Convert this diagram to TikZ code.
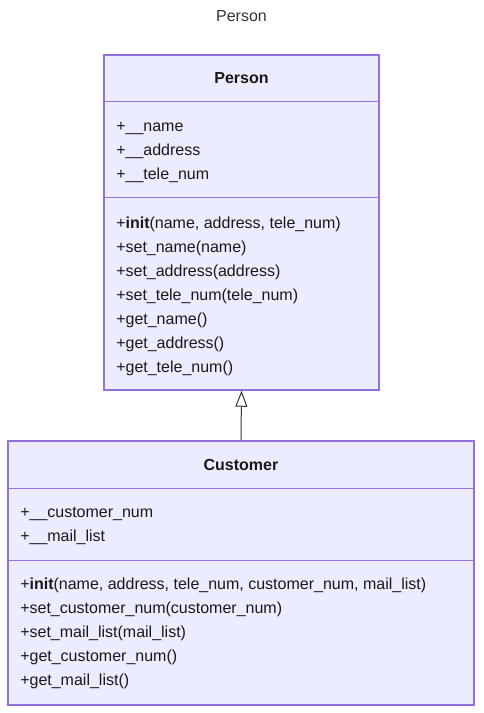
\documentclass[tikz,border=0pt]{standalone}
\usepackage{fontspec}
\setmainfont{Liberation Sans}
\usetikzlibrary{arrows.meta}
\definecolor{classfill}{HTML}{ECECFF}
\definecolor{classedge}{HTML}{9370DB}
\definecolor{textgray}{HTML}{333333}
\tikzset{
  classbox/.style={draw=classedge, fill=classfill, line width=1.1pt, inner sep=0pt},
  classline/.style={draw=classedge, line width=1.1pt},
  member/.style={anchor=base west, inner sep=0pt, font=\fontsize{12}{14}\selectfont, text=black!90},
  classname/.style={anchor=base, inner sep=0pt, font=\fontsize{12}{14}\selectfont\bfseries, text=black!90},
  inherit/.style={draw=textgray, line width=0.75pt, -{Triangle[open, width=9pt, length=12pt, fill=white]}}
}
\begin{document}
\begin{tikzpicture}[x=0.75pt, y=-0.75pt]
            \useasboundingbox (0,0) rectangle (483,713);
            % title
            \node[anchor=base, inner sep=0pt, font=\fontsize{12}{14}\selectfont, text=textgray] (title) at (241.5,22) {Person};

            % class Person
            \node[classbox, minimum width=206.25pt, minimum height=251.25pt] (person) at (241.5,222.5) {};
            \draw[classline] (person.north west) ++(0,47) -- ++(275,0);
            \draw[classline] (person.north west) ++(0,143) -- ++(275,0);
            \node[classname] (personname) at (241.5,84) {Person};
            \foreach \t [count=\i] in {+\_\_name, +\_\_address, +\_\_tele\_num}
                \node[member] (pa\i) at (116,{132+24*(\i-1)}) {\t};
            \foreach \t [count=\i] in {{+\textbf{init}(name, address, tele\_num)}, +set\_name(name), +set\_address(address),
                    +set\_tele\_num(tele\_num), +get\_name(), +get\_address(), +get\_tele\_num()}
                \node[member] (pm\i) at (116,{228+24*(\i-1)}) {\t};

            % class Customer
            \node[classbox, minimum width=349.5pt, minimum height=198pt] (customer) at (241,573) {};
            \draw[classline] (customer.north west) ++(0,48) -- ++(466,0);
            \draw[classline] (customer.north west) ++(0,120) -- ++(466,0);
            \node[classname] (customername) at (241,470) {Customer};
            \foreach \t [count=\i] in {+\_\_customer\_num, +\_\_mail\_list}
                \node[member] (ca\i) at (20,{517+24*(\i-1)}) {\t};
            \foreach \t [count=\i] in {{+\textbf{init}(name, address, tele\_num, customer\_num, mail\_list)}, +set\_customer\_num(customer\_num),
                    +set\_mail\_list(mail\_list), +get\_customer\_num(), +get\_mail\_list()}
                \node[member] (cm\i) at (20,{589+24*(\i-1)}) {\t};

            % inheritance
            \draw[inherit] (customer.north) -- (person.south);
        \end{tikzpicture}
\end{document}
